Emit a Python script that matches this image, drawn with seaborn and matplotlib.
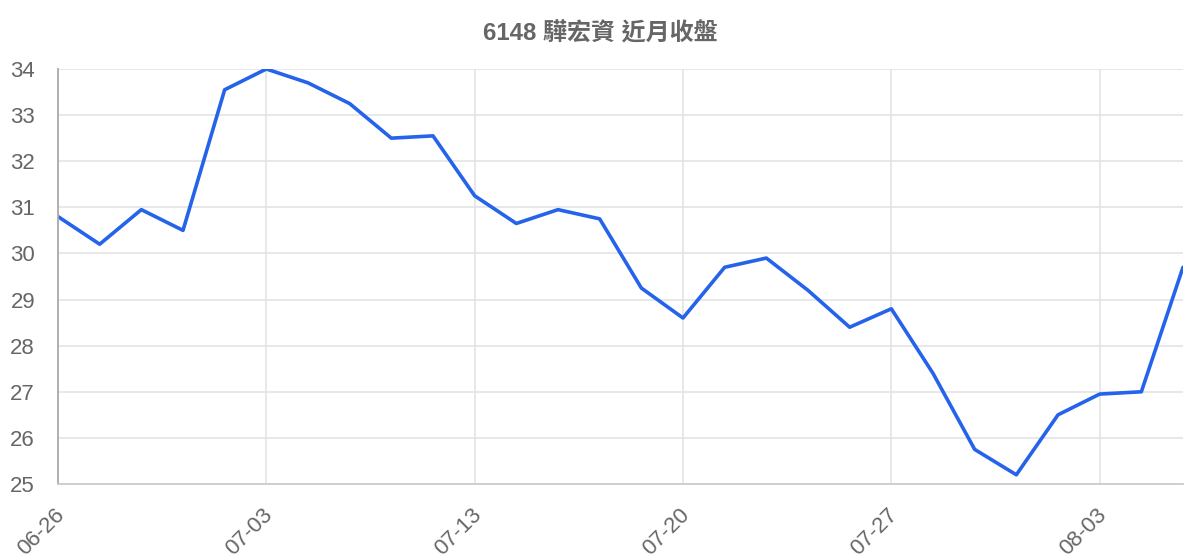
import matplotlib
matplotlib.use("Agg")
import matplotlib.pyplot as plt
import matplotlib.transforms as mtransforms
import seaborn as sns
import pandas as pd

dates = ["06-26", "06-27", "06-28", "06-29", "06-30", "07-03", "07-05", "07-07",
         "07-10", "07-12", "07-13", "07-14", "07-17", "07-18", "07-19", "07-20",
         "07-21", "07-24", "07-25", "07-26", "07-27", "07-28", "07-31", "08-01",
         "08-02", "08-03", "08-04", "08-07"]
closes = [30.8, 30.2, 30.95, 30.5, 33.55, 34.0, 33.7, 33.25, 32.5, 32.55,
          31.25, 30.65, 30.95, 30.75, 29.25, 28.6, 29.7, 29.9, 29.2, 28.4,
          28.8, 27.4, 25.75, 25.2, 26.5, 26.95, 27.0, 29.7]
tick_labels = ["06-26", "07-03", "07-13", "07-20", "07-27", "08-03"]
y_ticks = [25, 26, 27, 28, 29, 30, 31, 32, 33, 34]
title = "6148 驊宏資 近月收盤"

sns.set_theme(style="white")
plt.rcParams['font.family'] = ['Liberation Sans', 'Noto Sans CJK TC', 'DejaVu Sans']

df = pd.DataFrame({"idx": range(len(dates)), "date": dates, "close": closes})

fig = plt.figure(figsize=(12, 5.6), dpi=100)
ax = fig.add_axes([58/1200, 1-484/560, (1183-58)/1200, (484-69)/560])

sns.lineplot(data=df, x="idx", y="close", ax=ax, color="#2563eb", linewidth=2.6)

ax.set_xlim(0, len(dates) - 1)
ax.set_ylim(25, 34)
tick_pos = [dates.index(t) for t in tick_labels]
ax.set_xticks(tick_pos)
ax.set_xticklabels(tick_labels, rotation=45, ha="right", rotation_mode="anchor")
ax.set_yticks(y_ticks)
ax.set_yticklabels([str(v) for v in y_ticks])
ax.set_xlabel("")
ax.set_ylabel("")

ax.grid(True, color="#e2e2e2", linewidth=1.1)
ax.set_axisbelow(True)
ax.tick_params(axis="both", which="major", labelsize=16, labelcolor="#666666",
               color="#e2e2e2", width=1.1)
ax.tick_params(axis="x", length=13.5, pad=1)
ax.tick_params(axis="y", length=14.5, pad=2)

offset = mtransforms.ScaledTranslation(-4/100, 0, fig.dpi_scale_trans)
for lbl in ax.get_xticklabels():
    lbl.set_transform(lbl.get_transform() + offset)

for s in ["top", "right"]:
    ax.spines[s].set_visible(False)
ax.spines["left"].set_color("#aaaaaa")
ax.spines["left"].set_linewidth(1.3)
ax.spines["bottom"].set_color("#cccccc")
ax.spines["bottom"].set_linewidth(1.3)

fig.text(0.5, 1-34/560, title, ha="center", va="center", fontsize=17.3,
         fontweight="bold", color="#666666")

fig.savefig("out.png", dpi=100, facecolor="white")
